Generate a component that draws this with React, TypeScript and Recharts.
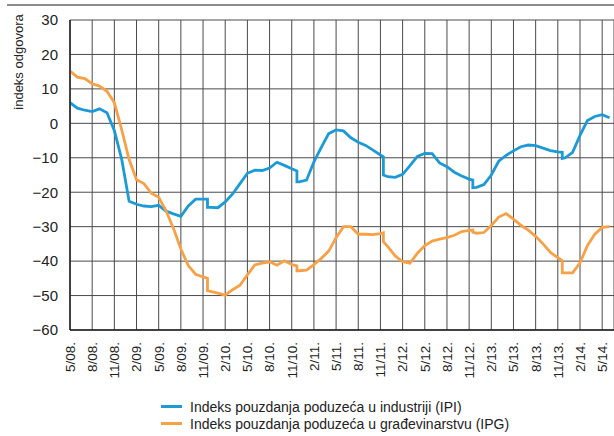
import { LineChart, Line, XAxis, YAxis, CartesianGrid } from 'recharts';

// month offsets from 5/08; the repeated offsets are the yearly breaks in the series
const months = [
  0, 1, 2, 3, 4, 5, 6, 7, 8, 9, 10, 11, 12, 13, 14, 15, 16, 17, 18, 18.6,
  18.6, 19, 20, 21, 22, 23, 24, 25, 26, 27, 28, 29, 30, 30.7,
  30.7, 31, 32, 33, 34, 35, 36, 37, 38, 39, 40, 41, 42, 42.4,
  42.4, 43, 44, 45, 46, 47, 48, 49, 50, 51, 52, 53, 54, 54.5,
  54.5, 55, 56, 57, 58, 59, 60, 61, 62, 63, 64, 65, 66, 66.6,
  66.6, 67, 68, 69, 70, 71, 72, 73,
];

const ipiValues = [
  6.0, 4.4, 3.8, 3.4, 4.2, 3.1, -2.1, -10.5, -22.6, -23.5, -24, -24.2, -23.8, -25.5, -26.3, -27, -24, -22, -22, -22,
  -24.4, -24.4, -24.5, -22.8, -20.5, -17.5, -14.5, -13.6, -13.7, -13, -11.3, -12.2, -13.2, -13.8,
  -17, -17, -16.5, -11.2, -7, -3, -1.9, -2.2, -4.2, -5.5, -6.4, -7.8, -9.2, -9.7,
  -15, -15.5, -15.7, -14.8, -12.3, -9.6, -8.7, -8.8, -11.5, -12.6, -14.2, -15.3, -16.2, -16.5,
  -18.7, -18.6, -17.8, -15, -11, -9.3, -8, -6.8, -6.3, -6.5, -7.2, -7.9, -8.3, -8.4,
  -10.2, -10, -8.4, -3.5, 0.8, 2, 2.5, 1.6,
];

const ipgValues = [
  15.2, 13.4, 13, 11.5, 10.8, 9.3, 6, -1.9, -10.5, -16.4, -17.5, -20.3, -21.5, -25.4, -30.5, -36.5, -41.3, -43.8, -44.6, -45,
  -48.6, -48.8, -49.3, -49.9, -48.3, -47, -44, -41.1, -40.6, -40.2, -41.2, -39.9, -41, -41.4,
  -42.8, -42.8, -42.6, -41, -39.2, -37.1, -33.2, -30, -30, -32.2, -32.2, -32.3, -32, -31.8,
  -34.4, -35.8, -38.5, -40.2, -40.6, -37.7, -35.5, -34.2, -33.6, -33.2, -32.5, -31.4, -31.1, -31,
  -31.6, -31.9, -31.7, -29.7, -27.2, -26.2, -27.8, -29.6, -31, -32.8, -35, -37.5, -39, -39.9,
  -43.4, -43.4, -43.4, -40.5, -35.5, -32.2, -30.2, -30,
];

const xLabels = [
  '5/08.', '8/08.', '11/08.', '2/09.', '5/09.', '8/09.', '11/09.', '2/10.', '5/10.', '8/10.', '11/10.',
  '2/11.', '5/11.', '8/11.', '11/11.', '2/12.', '5/12.', '8/12.', '11/12.', '2/13.', '5/13.', '8/13.',
  '11/13.', '2/14.', '5/14.',
];
const xTicks = xLabels.map((_, i) => i * 3);
const yTicks = [-60, -50, -40, -30, -20, -10, 0, 10, 20, 30];

const series = [
  { key: 'ipi', name: 'Indeks pouzdanja poduzeća u industriji (IPI)', color: '#1b9ad6' },
  { key: 'ipg', name: 'Indeks pouzdanja poduzeća u građevinarstvu (IPG)', color: '#f7a147' },
];

const data = months.map((t, i) => ({ t, ipi: ipiValues[i], ipg: ipgValues[i] }));

const axisFont = "'Liberation Sans', Arial, sans-serif";
const legendFont = "'Liberation Sans Narrow', 'Liberation Sans', Arial, sans-serif";

function XTick({ x, y, payload }: any) {
  return (
    <text
      x={0}
      y={0}
      transform={`translate(${x},${y}) rotate(-90)`}
      textAnchor="end"
      dy="0.36em"
      fontSize={13.5}
      fontFamily={axisFont}
      fill="#222"
    >
      {xLabels[Math.round(payload.value / 3)]}
    </text>
  );
}

export default function App() {
  return (
    <div style={{ position: 'absolute', left: 0, top: 0, width: 614, height: 436, background: '#fff' }}>
      <div style={{ position: 'absolute', left: 7, top: 4, width: 607, height: 2, background: '#8c8c8c' }} />
      <div
        style={{
          position: 'absolute',
          left: 18.5 - 60,
          top: 61.5 - 8,
          width: 120,
          height: 16,
          lineHeight: '16px',
          textAlign: 'center',
          transform: 'rotate(-90deg)',
          fontFamily: axisFont,
          fontSize: 13,
          color: '#222',
        }}
      >
        indeks odgovora
      </div>
      <LineChart width={614} height={436} data={data} margin={{ top: 20, right: 0, left: 0, bottom: 56 }}>
        <CartesianGrid stroke="#4a4a4a" strokeWidth={1} />
        <XAxis
          dataKey="t"
          type="number"
          domain={[0, 73.6]}
          ticks={xTicks}
          interval={0}
          allowDataOverflow
          tickLine={false}
          tickSize={0}
          tickMargin={12}
          height={50}
          axisLine={{ stroke: '#222', strokeWidth: 1.5 }}
          tick={<XTick />}
        />
        <YAxis
          type="number"
          domain={[-60, 30]}
          ticks={yTicks}
          interval={0}
          width={70}
          tickLine={false}
          tickSize={0}
          tickMargin={12}
          axisLine={{ stroke: '#222', strokeWidth: 1.5 }}
          tick={{ fontSize: 15, fill: '#222', fontFamily: axisFont }}
          tickFormatter={(v: number) => (v < 0 ? `\u2212${Math.abs(v)}` : `${v}`)}
        />
        {series.map((s) => (
          <Line
            key={s.key}
            dataKey={s.key}
            name={s.name}
            type="linear"
            stroke={s.color}
            strokeWidth={2.8}
            dot={false}
            isAnimationActive={false}
          />
        ))}
      </LineChart>
      <div style={{ position: 'absolute', left: 161, top: 398, fontFamily: legendFont, fontSize: 14, color: '#222' }}>
        {series.map((s) => (
          <div key={s.key} style={{ display: 'flex', alignItems: 'center', height: 17 }}>
            <span style={{ display: 'inline-block', width: 21, height: 3, background: s.color, marginRight: 8 }} />
            <span>{s.name}</span>
          </div>
        ))}
      </div>
    </div>
  );
}
